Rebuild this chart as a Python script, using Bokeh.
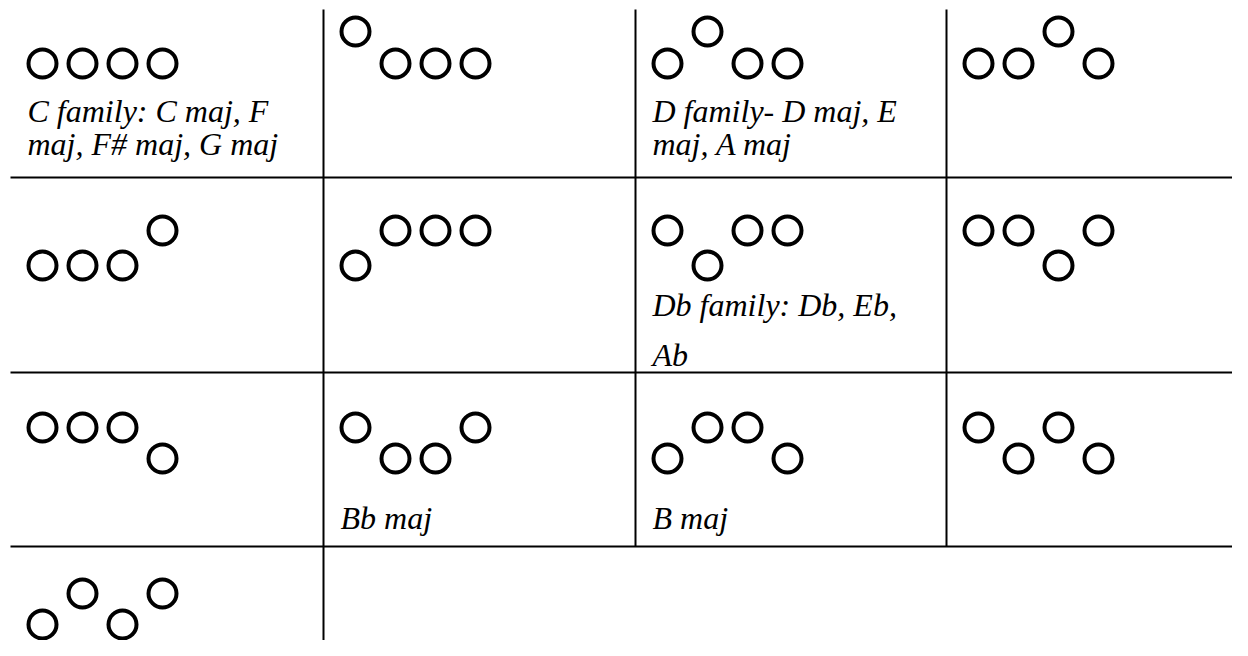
from bokeh.plotting import figure
from bokeh.models import Range1d, ColumnDataSource
from bokeh.core.properties import value
from bokeh.embed import file_html
from bokeh.resources import INLINE

# ---- data ----
# each cell: four circles, U = raised, D = lowered
patterns = ["DDDD", "UDDD", "DUDD", "DDUD",
            "DDDU", "DUUU", "UDUU", "UUDU",
            "UUUD", "UDDU", "DUUD", "UDUD",
            "DUDU"]
label_lines = [
    ["C family: C maj, F", "maj, F# maj, G maj"], [], ["D family- D maj, E", "maj, A maj"], [],
    [], [], ["Db family: Db, Eb,", "Ab"], [],
    [], ["Bb maj"], ["B maj"], [],
    [],
]

# ---- layout (pixel coordinates of the picture) ----
col_left = [10, 323, 635, 946]
row_top = [9, 177, 372, 546]
row_bottom = [177, 372, 546, 656]
level_up = [31, 230, 427, 593]
level_down = [63, 265, 458, 624]
text_base = [[110, 143], [304, 354], [517], []]
ncols = 4

W, H = 1232, 640
p = figure(width=W, height=H, x_range=Range1d(0, W), y_range=Range1d(H, 0),
           output_backend="svg", toolbar_location=None, min_border=0,
           x_axis_location=None, y_axis_location=None)
p.grid.visible = False
p.outline_line_color = None
p.background_fill_color = "white"
p.border_fill_color = "white"

# grid lines
x0, y0, x1, y1 = [], [], [], []
nrows = (len(patterns) + ncols - 1) // ncols
for r in range(nrows - 1):
    x0.append(col_left[0]); x1.append(1248)
    y0.append(row_bottom[r]); y1.append(row_bottom[r])
for c in range(1, ncols):
    # last row only has first column
    last = row_bottom[-1] if c == 1 else row_bottom[nrows - 2]
    x0.append(col_left[c]); x1.append(col_left[c])
    y0.append(row_top[0]); y1.append(last)
p.segment(x0=x0, y0=y0, x1=x1, y1=y1, line_color="black", line_width=2)

# circles and labels
cx, cy = [], []
tx, ty, tt = [], [], []
for i, pat in enumerate(patterns):
    r, c = divmod(i, ncols)
    for k, ch in enumerate(pat):
        cx.append(col_left[c] + 32 + 40 * k)
        cy.append(level_up[r] if ch == "U" else level_down[r])
    for j, line in enumerate(label_lines[i]):
        tx.append(col_left[c] + 17)
        ty.append(text_base[r][j])
        tt.append(line)

p.scatter(x=cx, y=cy, marker="circle", size=28, fill_color=None,
          line_color="black", line_width=4)

src = ColumnDataSource(dict(x=tx, y=ty, t=tt))
p.text(x="x", y="y", text="t", source=src, text_font=value("Liberation Serif"),
       text_font_style="italic", text_font_size="32px", text_color="black",
       text_align="left", text_baseline="alphabetic")

open("out.html", "w").write(file_html(p, INLINE))
